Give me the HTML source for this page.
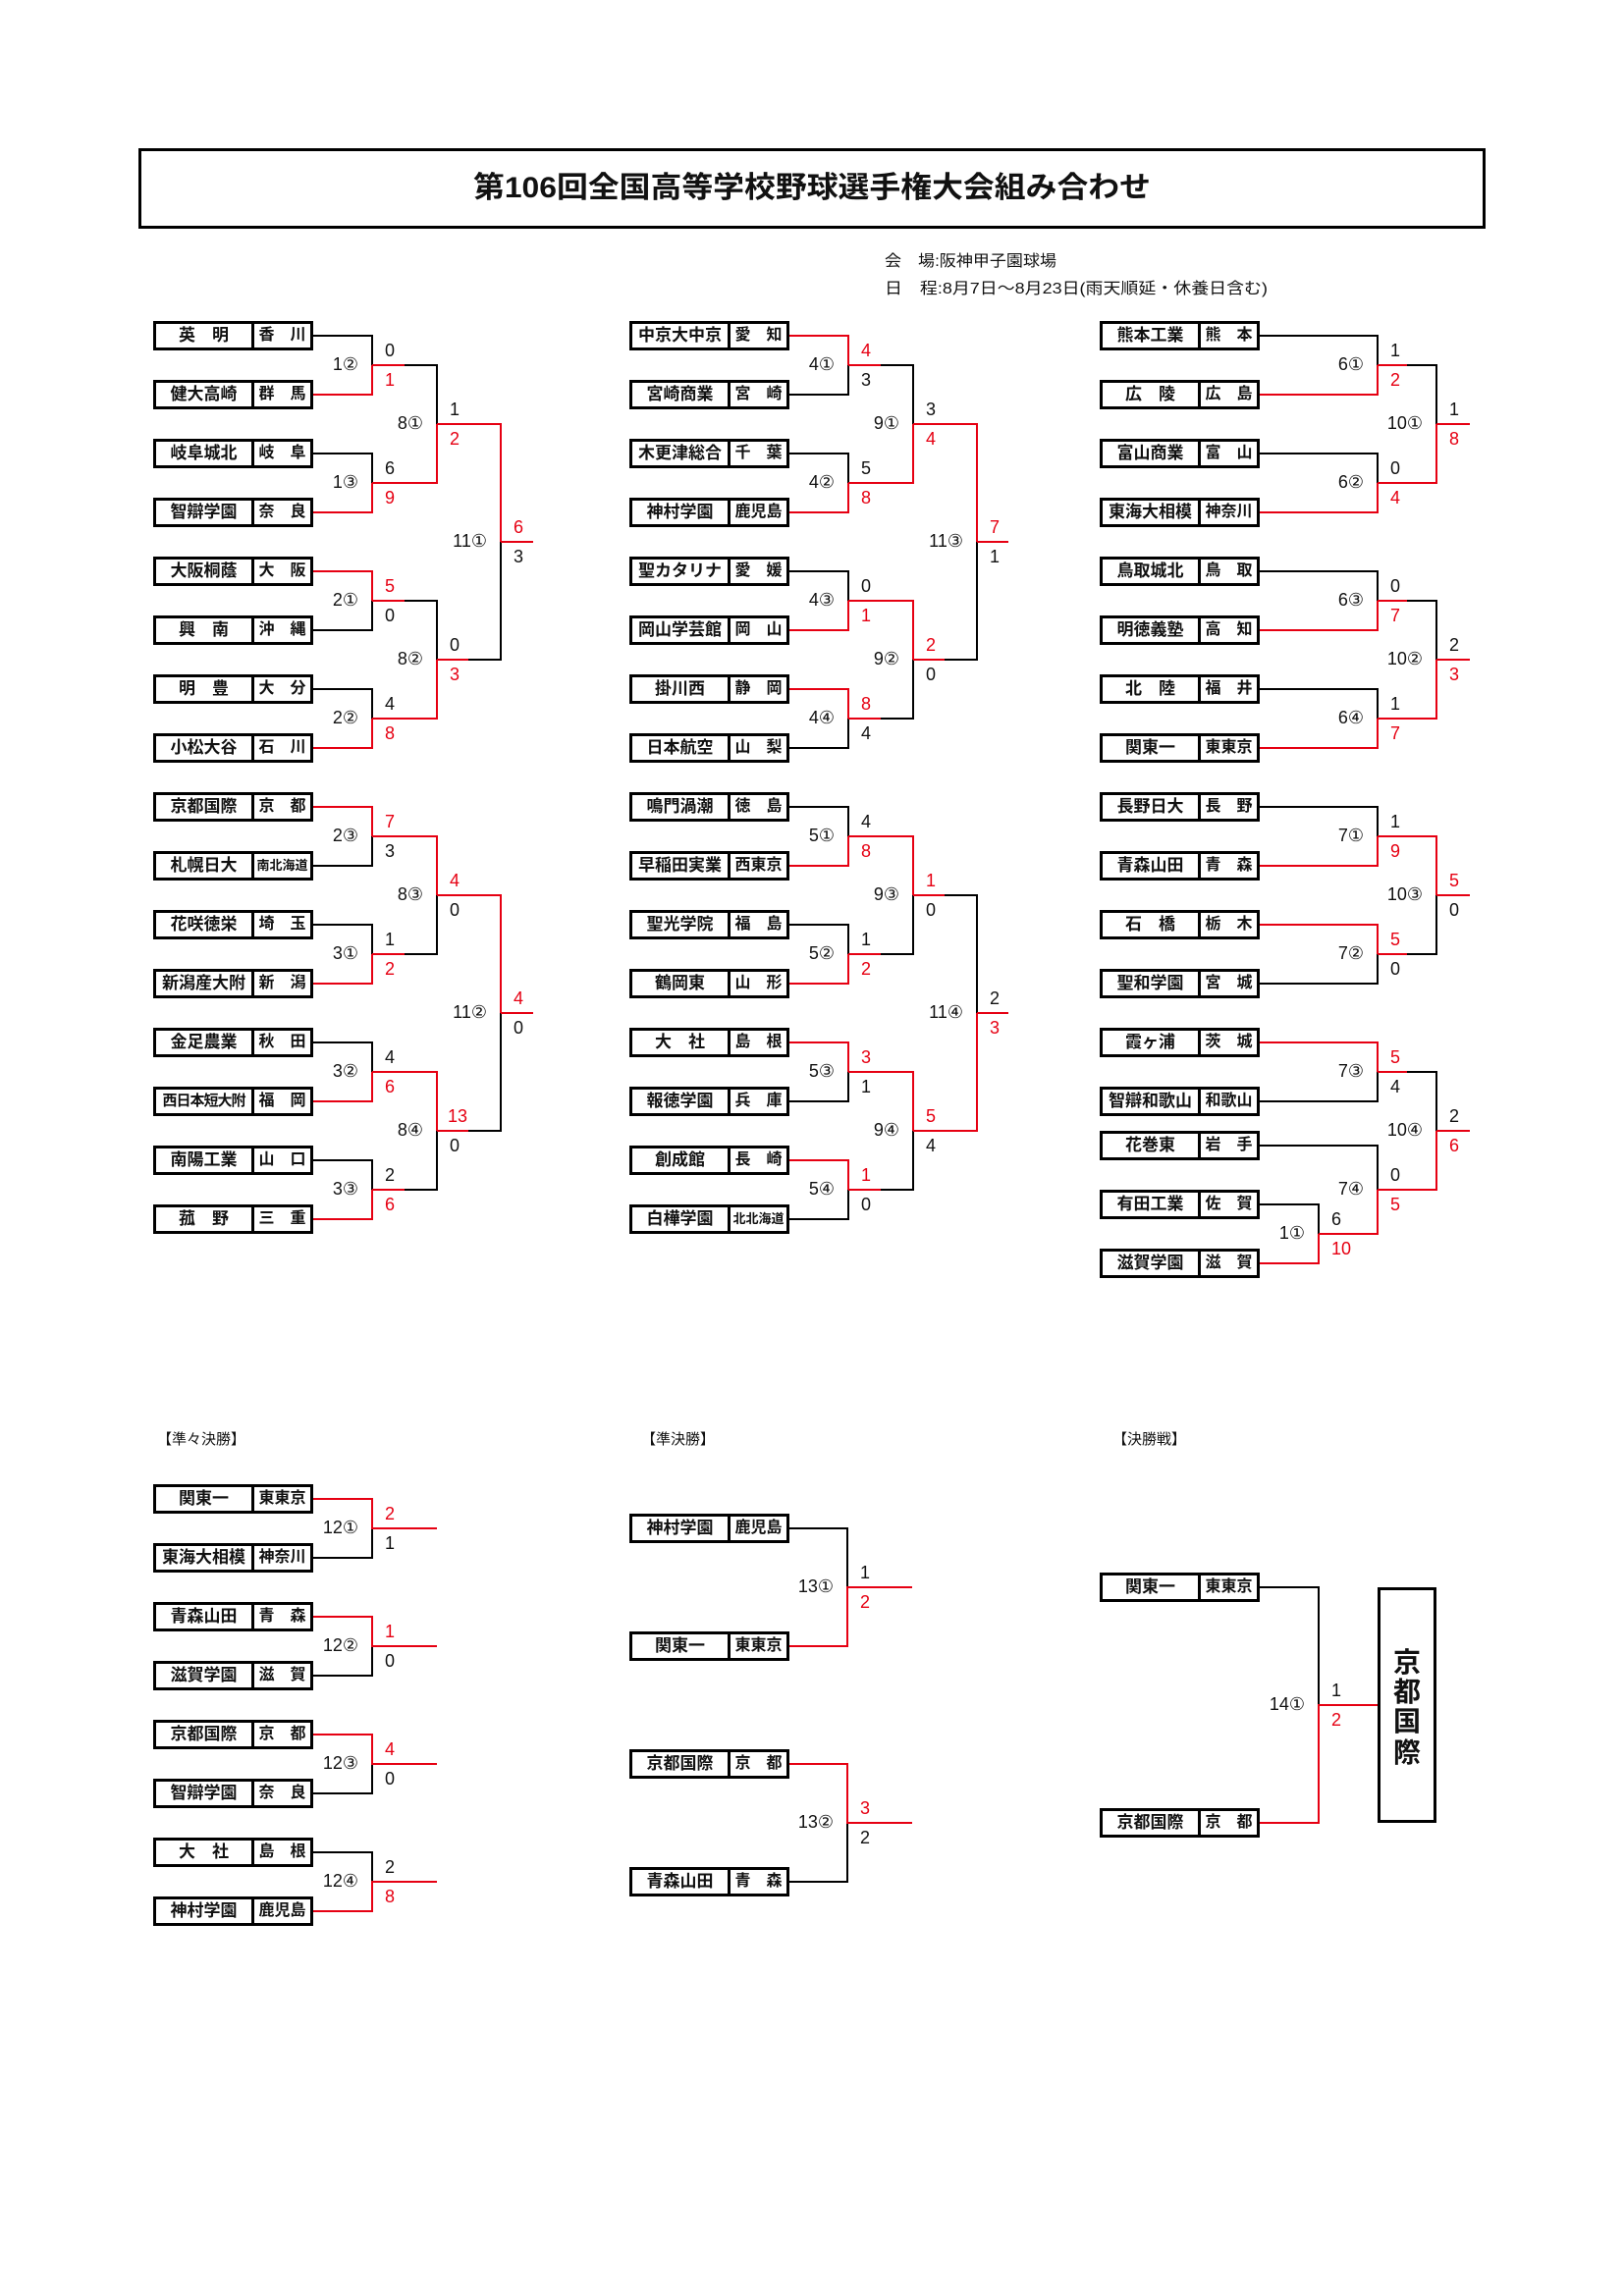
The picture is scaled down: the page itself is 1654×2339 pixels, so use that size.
<!DOCTYPE html>
<html><head><meta charset="utf-8">
<style>
html,body{margin:0;padding:0;background:#fff;}
body{width:1654px;height:2339px;position:relative;overflow:hidden;font-family:"Liberation Sans","Noto Sans CJK JP",sans-serif;}
svg{position:absolute;left:0;top:0;}
.b{position:absolute;width:163px;height:30px;box-sizing:border-box;border:3px solid #000;display:flex;background:#fff;font-weight:bold;font-size:17px;line-height:24px;color:#111;}
.b span{display:block;text-align:center;white-space:nowrap;overflow:hidden;}
.b span:first-child{width:97px;border-right:3px solid #000;}
.b span:last-child{width:57px;font-size:16px;}
.b span.sm{font-size:13px;}
.b span.n6{font-size:15px;letter-spacing:-1px;}
.c1{left:156px}.c2{left:641px}.c3{left:1120px}
.k{fill:none;stroke:#000;stroke-width:2}
.r{fill:none;stroke:#e60012;stroke-width:2}
text{font-family:"Liberation Sans","DejaVu Sans","Noto Sans CJK JP",sans-serif;font-size:18px;fill:#111}
text.rd{fill:#e60012}
text.lb{text-anchor:end}
.hd{position:absolute;font-size:15px;color:#111}
</style></head><body>
<svg width="1654" height="2339" viewBox="0 0 1654 2339">
<rect x="142.5" y="152.5" width="1369" height="79" fill="none" stroke="#000" stroke-width="3"/>
<text x="827" y="201" text-anchor="middle" textLength="690" lengthAdjust="spacingAndGlyphs" style="font-size:30px;font-weight:bold;font-family:'Liberation Sans','Noto Sans CJK JP',sans-serif">第106回全国高等学校野球選手権大会組み合わせ</text>
<text x="901" y="271" textLength="175" lengthAdjust="spacingAndGlyphs" style="font-size:16px;font-family:'Liberation Sans','Noto Sans CJK JP',sans-serif">会　場:阪神甲子園球場</text>
<text x="901" y="299" textLength="390" lengthAdjust="spacingAndGlyphs" style="font-size:16px;font-family:'Liberation Sans','Noto Sans CJK JP',sans-serif">日　程:8月7日～8月23日(雨天順延・休養日含む)</text>

<path class="k" d="M319 342H379V372M319 462H379V492M319 642H379V612M319 702H379V732M319 882H379V852M319 942H379V972M319 1062H379V1092M319 1182H379V1212
M412 372H445V432M412 612H445V672M412 972H445V912M412 1212H445V1152M477 672H510V552M477 1152H510V1032"/>
<path class="r" d="M319 402H379V372M319 522H379V492M319 582H379V612M319 762H379V732M319 822H379V852M319 1002H379V972M319 1122H379V1092M319 1242H379V1212
M379 372H412M379 492H445V432M379 612H412M379 732H445V672M379 852H445V912M379 972H412M379 1092H445V1152M379 1212H412
M445 432H510V552M445 672H477M510 552H543M445 912H510V1032M445 1152H477M510 1032H543"/>

<path class="k" d="M804 402H864V372M804 462H864V492M804 582H864V612M804 762H864V732M804 822H864V852M804 942H864V972M804 1122H864V1092M804 1242H864V1212
M897 372H930V432M897 732H930V672M897 972H930V912M897 1212H930V1152M962 672H995V552M962 912H995V1032"/>
<path class="r" d="M804 342H864V372M804 522H864V492M804 642H864V612M804 702H864V732M804 882H864V852M804 1002H864V972M804 1062H864V1092M804 1182H864V1212
M864 372H897M864 492H930V432M864 612H930V672M864 732H897M864 852H930V912M864 972H897M864 1092H930V1152M864 1212H897
M930 432H995V552M930 672H962M995 552H1027M930 912H962M930 1152H995V1032M995 1032H1027"/>

<path class="k" d="M1283 342H1403V372M1283 462H1403V492M1283 582H1403V612M1283 702H1403V732M1283 822H1403V852M1283 1002H1403V972M1283 1122H1403V1092M1283 1227H1343V1257M1283 1167H1403V1212
M1433 372H1463V432M1433 612H1463V672M1433 972H1463V912M1433 1092H1463V1152"/>
<path class="r" d="M1283 402H1403V372M1283 522H1403V492M1283 642H1403V612M1283 762H1403V732M1283 882H1403V852M1283 942H1403V972M1283 1062H1403V1092M1283 1287H1343V1257M1343 1257H1403V1212
M1403 372H1433M1403 492H1463V432M1463 432H1497M1403 612H1433M1403 732H1463V672M1463 672H1497M1403 852H1463V912M1403 972H1433M1463 912H1497M1403 1092H1433M1403 1212H1463V1152M1463 1152H1497"/>

<path class="k" d="M319 1587H379V1557M319 1707H379V1677M319 1827H379V1797M319 1887H379V1917M804 1557H863V1617M804 1917H863V1857M1283 1617H1343V1737"/>
<path class="r" d="M319 1527H379V1557H445M319 1647H379V1677H445M319 1767H379V1797H445M319 1947H379V1917H445
M804 1677H863V1617H929M804 1797H863V1857H929M1283 1857H1343V1737H1403"/>
<rect x="1404.5" y="1618.5" width="57" height="237" fill="#fff" stroke="#000" stroke-width="3"/>
<text x="1433" y="1703" text-anchor="middle" style="font-size:28px;font-weight:bold;font-family:'Liberation Sans','Noto Sans CJK JP',sans-serif">京</text>
<text x="1433" y="1733" text-anchor="middle" style="font-size:28px;font-weight:bold;font-family:'Liberation Sans','Noto Sans CJK JP',sans-serif">都</text>
<text x="1433" y="1763" text-anchor="middle" style="font-size:28px;font-weight:bold;font-family:'Liberation Sans','Noto Sans CJK JP',sans-serif">国</text>
<text x="1433" y="1795" text-anchor="middle" style="font-size:28px;font-weight:bold;font-family:'Liberation Sans','Noto Sans CJK JP',sans-serif">際</text>

<text class="lb" x="365" y="377">1②</text><text class="lb" x="365" y="497">1③</text><text class="lb" x="365" y="617">2①</text><text class="lb" x="365" y="737">2②</text>
<text class="lb" x="365" y="857">2③</text><text class="lb" x="365" y="977">3①</text><text class="lb" x="365" y="1097">3②</text><text class="lb" x="365" y="1217">3③</text>
<text class="lb" x="431" y="437">8①</text><text class="lb" x="431" y="677">8②</text><text class="lb" x="431" y="917">8③</text><text class="lb" x="431" y="1157">8④</text>
<text class="lb" x="496" y="557">11①</text><text class="lb" x="496" y="1037">11②</text>
<text x="392" y="363">0</text><text class="rd" x="392" y="393">1</text>
<text x="392" y="483">6</text><text class="rd" x="392" y="513">9</text>
<text class="rd" x="392" y="603">5</text><text x="392" y="633">0</text>
<text x="392" y="723">4</text><text class="rd" x="392" y="753">8</text>
<text class="rd" x="392" y="843">7</text><text x="392" y="873">3</text>
<text x="392" y="963">1</text><text class="rd" x="392" y="993">2</text>
<text x="392" y="1083">4</text><text class="rd" x="392" y="1113">6</text>
<text x="392" y="1203">2</text><text class="rd" x="392" y="1233">6</text>
<text x="458" y="423">1</text><text class="rd" x="458" y="453">2</text>
<text x="458" y="663">0</text><text class="rd" x="458" y="693">3</text>
<text class="rd" x="458" y="903">4</text><text x="458" y="933">0</text>
<text class="rd" x="456" y="1143">13</text><text x="458" y="1173">0</text>
<text class="rd" x="523" y="543">6</text><text x="523" y="573">3</text>
<text class="rd" x="523" y="1023">4</text><text x="523" y="1053">0</text>

<text class="lb" x="850" y="377">4①</text><text class="lb" x="850" y="497">4②</text><text class="lb" x="850" y="617">4③</text><text class="lb" x="850" y="737">4④</text>
<text class="lb" x="850" y="857">5①</text><text class="lb" x="850" y="977">5②</text><text class="lb" x="850" y="1097">5③</text><text class="lb" x="850" y="1217">5④</text>
<text class="lb" x="916" y="437">9①</text><text class="lb" x="916" y="677">9②</text><text class="lb" x="916" y="917">9③</text><text class="lb" x="916" y="1157">9④</text>
<text class="lb" x="981" y="557">11③</text><text class="lb" x="981" y="1037">11④</text>
<text class="rd" x="877" y="363">4</text><text x="877" y="393">3</text>
<text x="877" y="483">5</text><text class="rd" x="877" y="513">8</text>
<text x="877" y="603">0</text><text class="rd" x="877" y="633">1</text>
<text class="rd" x="877" y="723">8</text><text x="877" y="753">4</text>
<text x="877" y="843">4</text><text class="rd" x="877" y="873">8</text>
<text x="877" y="963">1</text><text class="rd" x="877" y="993">2</text>
<text class="rd" x="877" y="1083">3</text><text x="877" y="1113">1</text>
<text class="rd" x="877" y="1203">1</text><text x="877" y="1233">0</text>
<text x="943" y="423">3</text><text class="rd" x="943" y="453">4</text>
<text class="rd" x="943" y="663">2</text><text x="943" y="693">0</text>
<text class="rd" x="943" y="903">1</text><text x="943" y="933">0</text>
<text class="rd" x="943" y="1143">5</text><text x="943" y="1173">4</text>
<text class="rd" x="1008" y="543">7</text><text x="1008" y="573">1</text>
<text x="1008" y="1023">2</text><text class="rd" x="1008" y="1053">3</text>

<text class="lb" x="1389" y="377">6①</text><text class="lb" x="1389" y="497">6②</text><text class="lb" x="1389" y="617">6③</text><text class="lb" x="1389" y="737">6④</text>
<text class="lb" x="1389" y="857">7①</text><text class="lb" x="1389" y="977">7②</text><text class="lb" x="1389" y="1097">7③</text><text class="lb" x="1389" y="1217">7④</text>
<text class="lb" x="1329" y="1262">1①</text>
<text class="lb" x="1449" y="437">10①</text><text class="lb" x="1449" y="677">10②</text><text class="lb" x="1449" y="917">10③</text><text class="lb" x="1449" y="1157">10④</text>
<text x="1416" y="363">1</text><text class="rd" x="1416" y="393">2</text>
<text x="1416" y="483">0</text><text class="rd" x="1416" y="513">4</text>
<text x="1416" y="603">0</text><text class="rd" x="1416" y="633">7</text>
<text x="1416" y="723">1</text><text class="rd" x="1416" y="753">7</text>
<text x="1416" y="843">1</text><text class="rd" x="1416" y="873">9</text>
<text class="rd" x="1416" y="963">5</text><text x="1416" y="993">0</text>
<text class="rd" x="1416" y="1083">5</text><text x="1416" y="1113">4</text>
<text x="1416" y="1203">0</text><text class="rd" x="1416" y="1233">5</text>
<text x="1356" y="1248">6</text><text class="rd" x="1356" y="1278">10</text>
<text x="1476" y="423">1</text><text class="rd" x="1476" y="453">8</text>
<text x="1476" y="663">2</text><text class="rd" x="1476" y="693">3</text>
<text class="rd" x="1476" y="903">5</text><text x="1476" y="933">0</text>
<text x="1476" y="1143">2</text><text class="rd" x="1476" y="1173">6</text>

<text class="lb" x="365" y="1562">12①</text><text class="lb" x="365" y="1682">12②</text><text class="lb" x="365" y="1802">12③</text><text class="lb" x="365" y="1922">12④</text>
<text class="rd" x="392" y="1548">2</text><text x="392" y="1578">1</text>
<text class="rd" x="392" y="1668">1</text><text x="392" y="1698">0</text>
<text class="rd" x="392" y="1788">4</text><text x="392" y="1818">0</text>
<text x="392" y="1908">2</text><text class="rd" x="392" y="1938">8</text>
<text class="lb" x="849" y="1622">13①</text><text class="lb" x="849" y="1862">13②</text>
<text x="876" y="1608">1</text><text class="rd" x="876" y="1638">2</text>
<text class="rd" x="876" y="1848">3</text><text x="876" y="1878">2</text>
<text class="lb" x="1329" y="1742">14①</text>
<text x="1356" y="1728">1</text><text class="rd" x="1356" y="1758">2</text>
</svg>

<div class="hd" style="left:160px;top:1455px">【準々決勝】</div>
<div class="hd" style="left:653px;top:1455px">【準決勝】</div>
<div class="hd" style="left:1133px;top:1455px">【決勝戦】</div>

<div class="b c1" style="top:327px"><span>英　明</span><span>香　川</span></div>
<div class="b c1" style="top:387px"><span>健大高崎</span><span>群　馬</span></div>
<div class="b c1" style="top:447px"><span>岐阜城北</span><span>岐　阜</span></div>
<div class="b c1" style="top:507px"><span>智辯学園</span><span>奈　良</span></div>
<div class="b c1" style="top:567px"><span>大阪桐蔭</span><span>大　阪</span></div>
<div class="b c1" style="top:627px"><span>興　南</span><span>沖　縄</span></div>
<div class="b c1" style="top:687px"><span>明　豊</span><span>大　分</span></div>
<div class="b c1" style="top:747px"><span>小松大谷</span><span>石　川</span></div>
<div class="b c1" style="top:807px"><span>京都国際</span><span>京　都</span></div>
<div class="b c1" style="top:867px"><span>札幌日大</span><span class="sm">南北海道</span></div>
<div class="b c1" style="top:927px"><span>花咲徳栄</span><span>埼　玉</span></div>
<div class="b c1" style="top:987px"><span>新潟産大附</span><span>新　潟</span></div>
<div class="b c1" style="top:1047px"><span>金足農業</span><span>秋　田</span></div>
<div class="b c1" style="top:1107px"><span class="n6">西日本短大附</span><span>福　岡</span></div>
<div class="b c1" style="top:1167px"><span>南陽工業</span><span>山　口</span></div>
<div class="b c1" style="top:1227px"><span>菰　野</span><span>三　重</span></div>

<div class="b c2" style="top:327px"><span>中京大中京</span><span>愛　知</span></div>
<div class="b c2" style="top:387px"><span>宮崎商業</span><span>宮　崎</span></div>
<div class="b c2" style="top:447px"><span>木更津総合</span><span>千　葉</span></div>
<div class="b c2" style="top:507px"><span>神村学園</span><span>鹿児島</span></div>
<div class="b c2" style="top:567px"><span>聖カタリナ</span><span>愛　媛</span></div>
<div class="b c2" style="top:627px"><span>岡山学芸館</span><span>岡　山</span></div>
<div class="b c2" style="top:687px"><span>掛川西</span><span>静　岡</span></div>
<div class="b c2" style="top:747px"><span>日本航空</span><span>山　梨</span></div>
<div class="b c2" style="top:807px"><span>鳴門渦潮</span><span>徳　島</span></div>
<div class="b c2" style="top:867px"><span>早稲田実業</span><span>西東京</span></div>
<div class="b c2" style="top:927px"><span>聖光学院</span><span>福　島</span></div>
<div class="b c2" style="top:987px"><span>鶴岡東</span><span>山　形</span></div>
<div class="b c2" style="top:1047px"><span>大　社</span><span>島　根</span></div>
<div class="b c2" style="top:1107px"><span>報徳学園</span><span>兵　庫</span></div>
<div class="b c2" style="top:1167px"><span>創成館</span><span>長　崎</span></div>
<div class="b c2" style="top:1227px"><span>白樺学園</span><span class="sm">北北海道</span></div>

<div class="b c3" style="top:327px"><span>熊本工業</span><span>熊　本</span></div>
<div class="b c3" style="top:387px"><span>広　陵</span><span>広　島</span></div>
<div class="b c3" style="top:447px"><span>富山商業</span><span>富　山</span></div>
<div class="b c3" style="top:507px"><span>東海大相模</span><span>神奈川</span></div>
<div class="b c3" style="top:567px"><span>鳥取城北</span><span>鳥　取</span></div>
<div class="b c3" style="top:627px"><span>明徳義塾</span><span>高　知</span></div>
<div class="b c3" style="top:687px"><span>北　陸</span><span>福　井</span></div>
<div class="b c3" style="top:747px"><span>関東一</span><span>東東京</span></div>
<div class="b c3" style="top:807px"><span>長野日大</span><span>長　野</span></div>
<div class="b c3" style="top:867px"><span>青森山田</span><span>青　森</span></div>
<div class="b c3" style="top:927px"><span>石　橋</span><span>栃　木</span></div>
<div class="b c3" style="top:987px"><span>聖和学園</span><span>宮　城</span></div>
<div class="b c3" style="top:1047px"><span>霞ヶ浦</span><span>茨　城</span></div>
<div class="b c3" style="top:1107px"><span>智辯和歌山</span><span>和歌山</span></div>
<div class="b c3" style="top:1152px"><span>花巻東</span><span>岩　手</span></div>
<div class="b c3" style="top:1212px"><span>有田工業</span><span>佐　賀</span></div>
<div class="b c3" style="top:1272px"><span>滋賀学園</span><span>滋　賀</span></div>

<div class="b c1" style="top:1512px"><span>関東一</span><span>東東京</span></div>
<div class="b c1" style="top:1572px"><span>東海大相模</span><span>神奈川</span></div>
<div class="b c1" style="top:1632px"><span>青森山田</span><span>青　森</span></div>
<div class="b c1" style="top:1692px"><span>滋賀学園</span><span>滋　賀</span></div>
<div class="b c1" style="top:1752px"><span>京都国際</span><span>京　都</span></div>
<div class="b c1" style="top:1812px"><span>智辯学園</span><span>奈　良</span></div>
<div class="b c1" style="top:1872px"><span>大　社</span><span>島　根</span></div>
<div class="b c1" style="top:1932px"><span>神村学園</span><span>鹿児島</span></div>

<div class="b c2" style="top:1542px"><span>神村学園</span><span>鹿児島</span></div>
<div class="b c2" style="top:1662px"><span>関東一</span><span>東東京</span></div>
<div class="b c2" style="top:1782px"><span>京都国際</span><span>京　都</span></div>
<div class="b c2" style="top:1902px"><span>青森山田</span><span>青　森</span></div>

<div class="b c3" style="top:1602px"><span>関東一</span><span>東東京</span></div>
<div class="b c3" style="top:1842px"><span>京都国際</span><span>京　都</span></div>
</body></html>
